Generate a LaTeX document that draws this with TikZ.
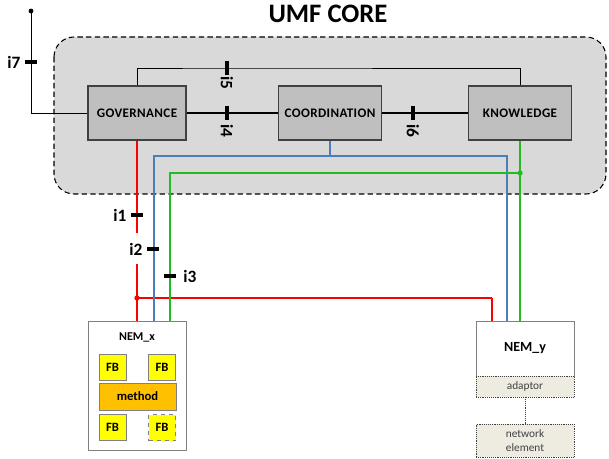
\documentclass[tikz,border=0pt]{standalone}
\usepackage{fontspec}
\setmainfont{Carlito}
\newfontfamily\boxfont{Carlito}[LetterSpace=3]
\usetikzlibrary{positioning,calc}
\definecolor{CoreGray}{HTML}{D9D9D9}
\definecolor{BlockGray}{HTML}{BFBFBF}
\definecolor{EdgeGray}{HTML}{404040}
\definecolor{NemEdge}{HTML}{808080}
\definecolor{FbYellow}{HTML}{FFFF00}
\definecolor{Amber}{HTML}{FFC000}
\definecolor{Beige}{HTML}{EEECE1}
\definecolor{LinkRed}{HTML}{FF0000}
\definecolor{LinkBlue}{HTML}{4A7EBB}
\definecolor{LinkGreen}{HTML}{22BB22}

\begin{document}
\begin{tikzpicture}[x=0.75pt,y=-0.75pt,
    block/.style={draw=EdgeGray,thick,fill=BlockGray,minimum height=40.5pt,inner sep=0pt,
      font=\boxfont\bfseries\fontsize{9.8}{11}\selectfont},
    hbar/.style={fill=black,minimum width=9pt,minimum height=3pt,inner sep=0pt},
    vbar/.style={fill=black,minimum width=3pt,minimum height=10pt,inner sep=0pt},
    ilabel/.style={font=\bfseries\fontsize{13}{15}\selectfont,inner sep=0pt},
    nembox/.style={draw=NemEdge,fill=white,inner sep=0pt,minimum width=73.5pt},
    fbbox/.style={draw=NemEdge,fill=FbYellow,minimum width=20.25pt,minimum height=19.5pt,
      inner sep=0pt,font=\bfseries\fontsize{9.5}{11}\selectfont},
    adbox/.style={draw=EdgeGray,densely dotted,fill=Beige,minimum width=73.5pt,inner sep=0pt,
      align=center,text=EdgeGray,font=\fontsize{8.5}{10}\selectfont},
    redline/.style={LinkRed,line width=1.5pt},
    blueline/.style={LinkBlue,line width=1.5pt},
    greenline/.style={LinkGreen,line width=1.5pt}]
    \useasboundingbox (0,0) rectangle (609,459);

    % core area
    \draw[thick,fill=CoreGray,rounded corners=15pt,dash pattern=on 4pt off 2.5pt] (54,37) rectangle (606,194);
    \node[font=\bfseries\fontsize{20}{23}\selectfont] (title) at (328,14) {UMF CORE};

    \node[block,minimum width=73.5pt] (gov) at (137,113) {GOVERNANCE};
    \node[block,minimum width=77.25pt] (coord) at (330,113) {COORDINATION};
    \node[block,minimum width=77.25pt] (know) at (520,113) {KNOWLEDGE};

    % managed entities
    \node[nembox,minimum height=96.75pt] (nemx) at (137,385.5) {};
    \node[font=\bfseries\fontsize{9}{10}\selectfont] (nemxt) at (137,337) {NEM\_x};
    \node[fbbox] (fb1) at (112.5,367) {FB};
    \node[fbbox] (fb2) at (162,367) {FB};
    \node[fbbox,fill=Amber,minimum width=57.75pt,minimum height=20.25pt] (meth) at (137.5,396.5) {method};
    \node[fbbox] (fb3) at (112.5,427.5) {FB};
    \node[fbbox,dashed] (fb4) at (162,427.5) {FB};

    \node[nembox,minimum height=41.25pt,font=\bfseries\fontsize{10.5}{12}\selectfont] (nemy) at (525,348.5) {NEM\_y};
    \node[adbox,minimum height=15.75pt] (adapt) at (525,386.5) {adaptor};
    \node[adbox,minimum height=24.75pt] (netel) at (525,440.5) {network\\element};
    \draw[EdgeGray,densely dotted] (adapt.south) -- (netel.north);

    % core interfaces
    \coordinate (top) at (31,11);
    \fill (top) circle (1.8pt);
    \draw (top) |- (gov.west);
    \draw (gov.north) |- (227,68) -| (know.north);
    \draw[line width=1.2pt] (gov.east) -- (coord.west);
    \draw[line width=1.2pt] (coord.east) -- (know.west);

    % links to the entities
    \coordinate (r1) at (137,233);
    \coordinate (r2) at (137,264);
    \coordinate (rj) at (137,298);
    \coordinate (rc) at (492,298);
    \draw[redline] (gov.south) -- (r1);
    \draw[redline] (r2) -- (nemx.north);
    \draw[LinkRed,line width=0.8pt] (rj) -- (rc);
    \draw[redline] (rc) -- (rc |- nemy.north);
    \fill[LinkRed] (rj) circle (2pt);

    \coordinate (bl) at (154,156);
    \coordinate (br) at (507,156);
    \draw[blueline] (coord.south) -- (coord.south |- bl);
    \draw[blueline] (bl |- nemx.north) -- (bl) -- (br) -- (br |- nemy.north);

    \coordinate (gl) at (170,173);
    \draw[greenline] (know.south) -- (know.south |- nemy.north);
    \draw[greenline] (gl |- nemx.north) -- (gl) -- (know.south |- gl);
    \fill[LinkGreen] (know.south |- gl) circle (2pt);

    % interface marks
    \node[hbar] (t7) at (31,62) {};
    \node[ilabel] (l7) at (14,62) {i7};
    \node[vbar] (t5) at (227,68) {};
    \node[ilabel,rotate=-90] (l5) at (227,83) {i5};
    \node[vbar] (t4) at (227,113) {};
    \node[ilabel,rotate=-90] (l4) at (227,131) {i4};
    \node[vbar] (t6) at (413,113) {};
    \node[ilabel,rotate=-90] (l6) at (413,131) {i6};
    \node[hbar] (t1) at (137,215) {};
    \node[ilabel] (l1) at (120,215) {i1};
    \node[hbar] (t2) at (153,249) {};
    \node[ilabel] (l2) at (136,249) {i2};
    \node[hbar] (t3) at (170,276) {};
    \node[ilabel] (l3) at (190,276) {i3};
  \end{tikzpicture}
\end{document}
